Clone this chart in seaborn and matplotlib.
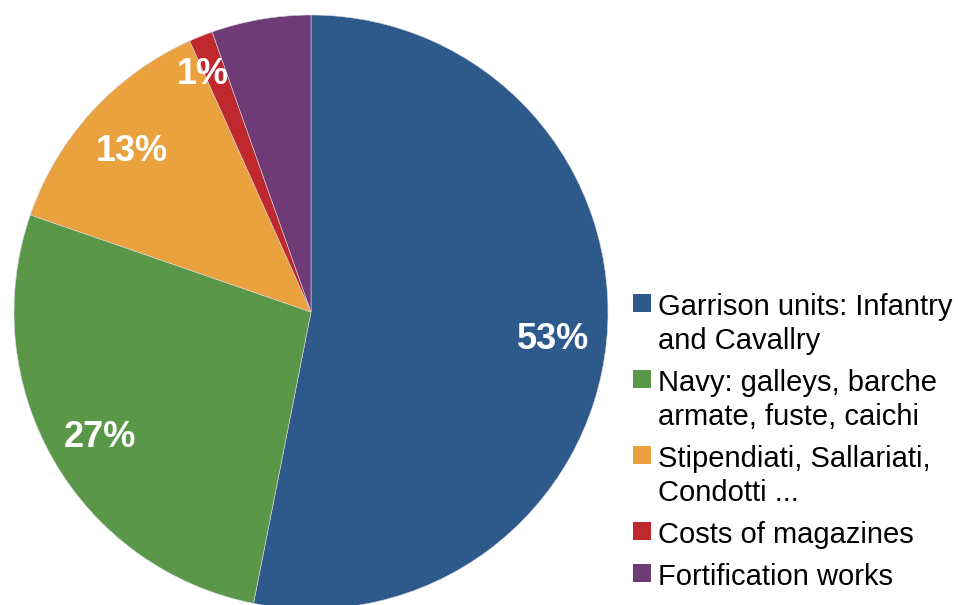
import matplotlib
matplotlib.use("Agg")
import matplotlib.pyplot as plt
from matplotlib.patches import Rectangle
import numpy as np
import seaborn as sns

# Expense categories and their share of the budget (%)
categories = [
    "Garrison units: Infantry\nand Cavallry",
    "Navy: galleys, barche\narmate, fuste, caichi",
    "Stipendiati, Sallariati,\nCondotti ...",
    "Costs of magazines",
    "Fortification works",
]
shares = [53.1, 27.2, 13.0, 1.3, 5.4]
show_label = [True, True, True, True, False]
colors = ["#2D598B", "#5B9749", "#E9A23D", "#BF292E", "#6E3B76"]

sns.set_theme(style="white")
plt.rcParams["font.family"] = ["Liberation Sans", "DejaVu Sans"]

W, H = 958, 605
fig = plt.figure(figsize=(W / 100, H / 100), dpi=100)
fig.patch.set_facecolor("white")

# pie axes: circle centred at (311, 312) px with radius 297 px
cx, cy, R = 311, 312, 297
ax = fig.add_axes([(cx - R) / W, 1 - (cy + R) / H, 2 * R / W, 2 * R / H])

def pct_text(p):
    return f"{p:.0f}%"

wedges, _, autotexts = ax.pie(
    shares,
    colors=colors,
    startangle=90,
    counterclock=False,
    radius=1.0,
    autopct=pct_text,
    pctdistance=0.82,
    wedgeprops=dict(linewidth=0.4, edgecolor="#d8d8e0"),
    textprops=dict(color="white", fontsize=26, fontweight="bold"),
)
for t, keep in zip(autotexts, show_label):
    t.set_visible(keep)
    t.set_verticalalignment("center_baseline")

# the thin slice's label sits further out, over its edge with the previous slice
small = 3
edge_ang = np.deg2rad(90 - 360 * sum(shares[:small]) / sum(shares))
autotexts[small].set_position((0.89 * np.cos(edge_ang), 0.89 * np.sin(edge_ang)))

ax.set_xlim(-1, 1)
ax.set_ylim(-1, 1)
ax.set_aspect("equal")
ax.axis("off")

# legend: square swatch beside each (possibly two-line) label
text_x = 658
box_x, box_size = 633, 18
line_step, entry_gap = 34, 42
baseline = 315
for label, color in zip(categories, colors):
    lines = label.split("\n")
    fig.patches.append(Rectangle(
        (box_x / W, 1 - (baseline - 3) / H), box_size / W, box_size / H,
        transform=fig.transFigure, facecolor=color, edgecolor="none"))
    for i, line in enumerate(lines):
        fig.text(text_x / W, 1 - (baseline + i * line_step) / H, line,
                 fontsize=21, color="black", va="baseline", ha="left")
    baseline += (len(lines) - 1) * line_step + entry_gap

fig.savefig("out.png", dpi=100, facecolor="white")
